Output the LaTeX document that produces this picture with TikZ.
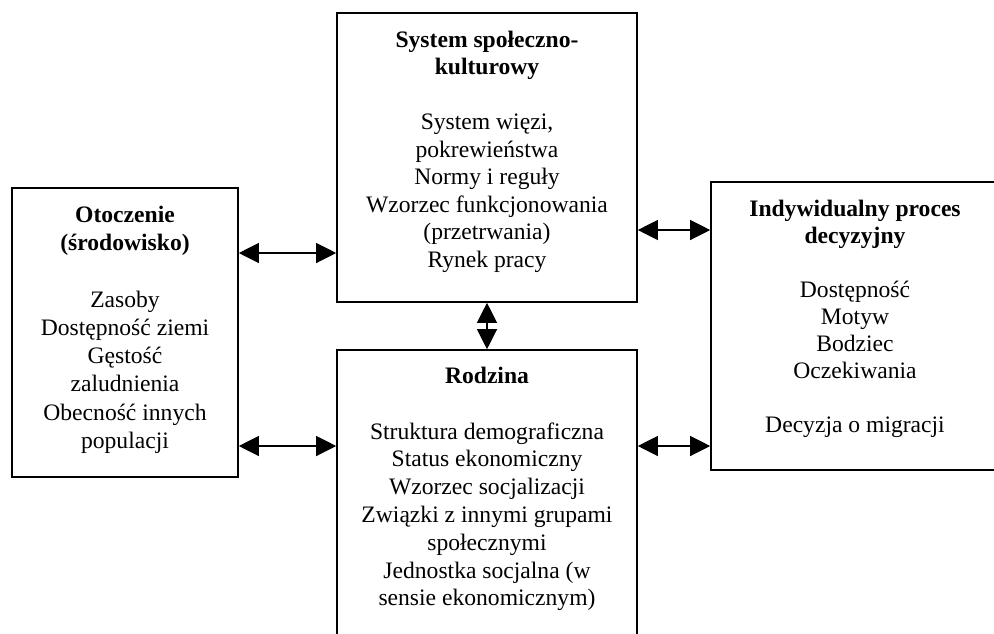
\documentclass[tikz,border=0pt]{standalone}
\usepackage{fontspec}
\setmainfont{Liberation Serif}
\usetikzlibrary{arrows.meta}
\begin{document}
\begin{tikzpicture}[x=1pt,y=-1pt,
  box/.style={draw,line width=1.6pt,rectangle,inner sep=0pt},
  label/.style={inner sep=0pt,anchor=north,align=center,
    font=\fontsize{23.6}{#1}\selectfont},
  label/.default=27.5,
  link/.style={line width=1.2pt,
    {Triangle[length=20pt,width=20pt]}-{Triangle[length=20pt,width=20pt]}}]
\useasboundingbox (0,0) rectangle (994,633);
\clip (0,0) rectangle (994,633);

% boxes
\node[box,minimum width=226pt,minimum height=289pt] (env) at (125,332.5) {};
\node[box,minimum width=300pt,minimum height=289pt] (soc) at (487,157.5) {};
\node[box,minimum width=300pt,minimum height=320pt] (fam) at (487,510) {};
\node[box,minimum width=288pt,minimum height=288pt] (ind) at (855,326) {};

% box texts
\node[label=28.2] (envtext) at (125,202.75)
  {\strut\textbf{Otoczenie}\\\textbf{(środowisko)}\\[28.2pt]
   Zasoby\\Dostępność ziemi\\Gęstość\\zaludnienia\\Obecność innych\\populacji};
\node[label=27.5] (soctext) at (487,27.75)
  {\strut\textbf{System społeczno-}\\\textbf{kulturowy}\\[27.5pt]
   System więzi,\\pokrewieństwa\\Normy i reguły\\Wzorzec funkcjonowania\\(przetrwania)\\Rynek pracy};
\node[label=27.8] (famtext) at (487,363.75)
  {\strut\textbf{Rodzina}\\[27.8pt]
   Struktura demograficzna\\Status ekonomiczny\\Wzorzec socjalizacji\\Związki z innymi grupami\\społecznymi\\Jednostka socjalna (w\\sensie ekonomicznym)};
\node[label=27] (indtext) at (855,197.75)
  {\strut\textbf{Indywidualny proces}\\\textbf{decyzyjny}\\[27pt]
   Dostępność\\Motyw\\Bodziec\\Oczekiwania\\[27pt]Decyzja o migracji};

% two-way links
\draw[link] (env.east |- 0,253) -- (soc.west |- 0,253);
\draw[link] (env.east |- 0,446) -- (fam.west |- 0,446);
\draw[link] (soc.east |- 0,230) -- (ind.west |- 0,230);
\draw[link] (fam.east |- 0,446) -- (ind.west |- 0,446);
\draw[link] (soc.south) -- (fam.north);
\end{tikzpicture}
\end{document}
